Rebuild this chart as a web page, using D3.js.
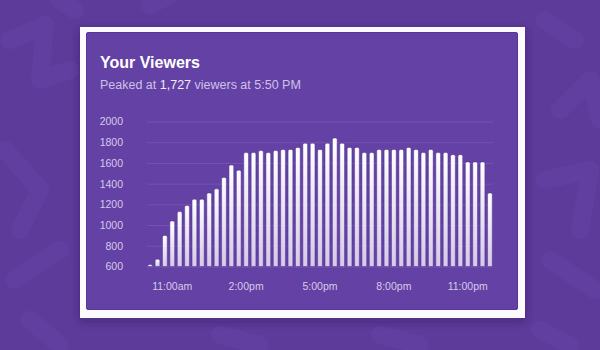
<!DOCTYPE html>
<html>
<head>
<meta charset="utf-8">
<script src="https://cdn.jsdelivr.net/npm/d3@7"></script>
<style>
  html, body { margin: 0; padding: 0; background: #5c3b9a; }
  svg { display: block; }
</style>
</head>
<body>
<div class="chart-container"></div>
<script>
// Data
const viewers = [620, 670, 900, 1040, 1130, 1190, 1250, 1250, 1310, 1350,
    1460, 1580, 1530, 1700, 1700, 1720, 1700, 1720, 1730, 1730,
    1750, 1790, 1790, 1730, 1790, 1840, 1790, 1750, 1750, 1700,
    1700, 1730, 1730, 1730, 1730, 1750, 1730, 1700, 1730, 1700,
    1700, 1680, 1680, 1610, 1610, 1610, 1310];
const tickSlots = [3, 13, 23, 33, 43];
const tickLabels = ['11:00am', '2:00pm', '5:00pm', '8:00pm', '11:00pm'];
const yTicks = [600, 800, 1000, 1200, 1400, 1600, 1800, 2000];

// Dimensions
const W = 600, H = 350;
const plot = { left: 147, right: 493, top: 121.5, bottom: 266.5 };
const font = '"Helvetica Neue", "Liberation Sans", Arial, sans-serif';

const svg = d3.select('.chart-container')
    .append('svg')
        .attr('width', W)
        .attr('height', H);

const defs = svg.append('defs');

const grad = defs.append('linearGradient')
    .attr('id', 'barGrad')
    .attr('x1', 0).attr('y1', 0).attr('x2', 0).attr('y2', 1);
grad.append('stop').attr('offset', '0%').attr('stop-color', '#ffffff');
grad.append('stop').attr('offset', '100%').attr('stop-color', '#d6cae9');

const shadow = defs.append('filter').attr('id', 'shadow')
    .attr('x', '-10%').attr('y', '-10%').attr('width', '120%').attr('height', '125%');
shadow.append('feDropShadow')
    .attr('dx', 0).attr('dy', 3).attr('stdDeviation', 5)
    .attr('flood-color', '#2a1550').attr('flood-opacity', 0.45);

// Background texture (faint glyph shapes)
svg.append('rect').attr('width', W).attr('height', H).attr('fill', '#5c3b9a');
const deco = svg.append('g')
    .attr('fill', 'none')
    .attr('stroke', '#6544a6')
    .attr('stroke-width', 18)
    .attr('stroke-linecap', 'round')
    .attr('stroke-linejoin', 'round')
    .attr('opacity', 0.55);
deco.append('path').attr('d', 'M10,40 L45,25 L40,80 L70,70');
deco.append('path').attr('d', 'M5,150 L40,190 L20,230');
deco.append('path').attr('d', 'M15,280 L60,250 M30,320 L60,345');
deco.append('path').attr('d', 'M60,0 L75,10 M150,5 L170,-5');
deco.append('path').attr('d', 'M545,20 L575,40 M560,110 L590,80 L600,120');
deco.append('path').attr('d', 'M545,180 L590,170 L580,230');
deco.append('path').attr('d', 'M550,260 L595,290 M540,330 L570,345');
deco.append('path').attr('d', 'M220,335 L260,345 M380,335 L420,345');

// Card
svg.append('rect')
    .attr('x', 80).attr('y', 27)
    .attr('width', 445).attr('height', 291)
    .attr('fill', '#fbfafc')
    .attr('filter', 'url(#shadow)');

svg.append('rect')
    .attr('x', 86.5).attr('y', 32.5)
    .attr('width', 431).attr('height', 277)
    .attr('rx', 1.5)
    .attr('fill', '#6441a4')
    .attr('stroke', '#56369a')
    .attr('stroke-width', 1);

// Titles
svg.append('text')
    .attr('x', 100).attr('y', 68)
    .attr('fill', '#ffffff')
    .attr('font-family', font)
    .attr('font-weight', 'bold')
    .attr('font-size', 16)
    .text('Your Viewers');

const sub = svg.append('text')
    .attr('x', 100).attr('y', 89)
    .attr('fill', '#cfc2e6')
    .attr('font-family', font)
    .attr('font-size', 12.5);
sub.append('tspan').text('Peaked at ');
sub.append('tspan').attr('fill', '#f1ecf8').text('1,727');
sub.append('tspan').text(' viewers at 5:50 PM');

// Scales
const x = d3.scaleBand()
    .domain(d3.range(viewers.length))
    .range([plot.left, plot.right])
    .paddingInner(0.36)
    .paddingOuter(0.1);

const y = d3.scaleLinear()
    .domain([600, 2000])
    .range([plot.bottom, plot.top]);

// Gridlines + y labels
const yAxis = svg.append('g')
    .attr('transform', `translate(${plot.left},0)`)
    .call(d3.axisLeft(y)
        .tickValues(yTicks)
        .tickFormat(d3.format('d'))
        .tickSize(-(plot.right - plot.left))
        .tickPadding(24));
yAxis.select('.domain').remove();
yAxis.selectAll('.tick line')
    .attr('stroke', '#ffffff')
    .attr('stroke-opacity', 0.1);
yAxis.selectAll('.tick text')
    .attr('fill', '#d6cbe9')
    .attr('font-family', font)
    .attr('font-size', 10.5);

// Bars
const bars = svg.append('g').attr('class', 'bars');
bars.selectAll('path')
    .data(viewers)
    .join('path')
        .attr('d', (d, i) => {
            const x0 = x(i), w = x.bandwidth(), top = y(d), bot = y(600), r = 1.5;
            return `M${x0},${bot} L${x0},${top + r} Q${x0},${top} ${x0 + r},${top}` +
                ` L${x0 + w - r},${top} Q${x0 + w},${top} ${x0 + w},${top + r} L${x0 + w},${bot} Z`;
        })
        .attr('fill', 'url(#barGrad)')
        .attr('stroke', '#4f2f8e')
        .attr('stroke-opacity', 0.6)
        .attr('stroke-width', 0.8);

// X labels
const xAxis = svg.append('g')
    .attr('transform', `translate(0,${plot.bottom})`)
    .call(d3.axisBottom(x)
        .tickValues(tickSlots)
        .tickFormat((d, i) => tickLabels[i])
        .tickSize(0)
        .tickPadding(16));
xAxis.select('.domain').remove();
xAxis.selectAll('.tick text')
    .attr('fill', '#d6cbe9')
    .attr('font-family', font)
    .attr('font-size', 10.5);
</script>
</body>
</html>
